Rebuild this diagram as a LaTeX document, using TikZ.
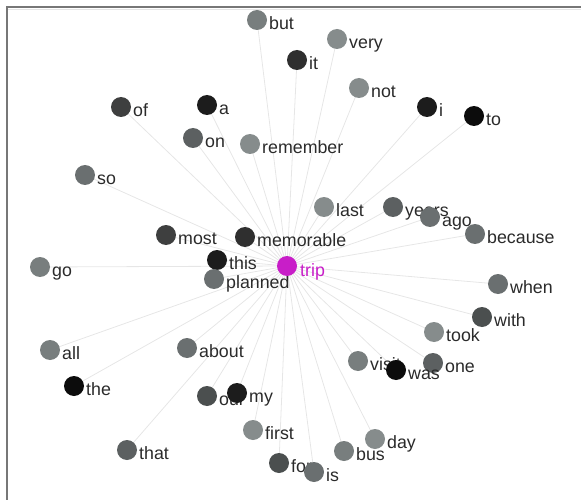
\documentclass[tikz,border=0pt]{standalone}
\usepackage{fontspec}
\setmainfont{Liberation Sans}
\pgfdeclarelayer{bg}
\pgfsetlayers{bg,main}
\definecolor{c0}{HTML}{0C0C0C}
\definecolor{c1}{HTML}{1C1C1C}
\definecolor{c2}{HTML}{2F2F2F}
\definecolor{c3}{HTML}{3E3F3F}
\definecolor{c4}{HTML}{4B4F4F}
\definecolor{c5}{HTML}{5C6061}
\definecolor{c6}{HTML}{6A6F70}
\definecolor{c7}{HTML}{787E7E}
\definecolor{c8}{HTML}{868C8C}
\definecolor{tripc}{HTML}{C81EC8}
\definecolor{edgec}{HTML}{E6E6E6}
\definecolor{framec}{HTML}{777777}
\definecolor{txtc}{HTML}{2A2A2A}
\begin{document}
\begin{tikzpicture}[x=1pt,y=-1pt,
  dot/.style={circle,inner sep=0pt,minimum size=20pt,draw=none},
  lbl/.style={anchor=base west,inner sep=0pt,font=\fontsize{17.8}{18}\selectfont,text=txtc},
  edge/.style={draw=edgec,line width=0.8pt}]
\useasboundingbox (0,0) rectangle (581,500);
\draw[framec,line width=1.6pt] (7,500) -- (7,7) -- (581,7);
\draw[black!10,line width=0.8pt] (8,9.5) -- (581,9.5);
\coordinate (trip) at (287,266);
\foreach \n/\x/\y/\c/\t in {
  but/257/20/c7/but, very/337/39/c8/very, it/297/60/c2/it, not/359/88/c8/not,
  i/427/107/c1/i, to/474/116/c0/to, of/121/107/c3/of, a/207/105/c1/a,
  on/193/138/c5/on, remember/250/144/c8/remember, so/85/175/c6/so,
  last/324/207/c8/last, years/393/207/c5/years, ago/430/217/c6/ago,
  because/475/234/c6/because, most/166/235/c3/most, memorable/245/237/c2/memorable,
  go/40/267/c7/go, this/217/260/c1/this, planned/214/279/c6/planned,
  when/498/284/c6/when, with/482/317/c4/with, took/434/332/c8/took,
  all/50/350/c7/all, about/187/348/c6/about, visit/358/361/c7/visit,
  one/433/363/c5/one, was/396/370/c0/was, the/74/386/c0/the,
  our/207/396/c4/our, my/237/393/c1/my, first/253/430/c8/first,
  that/127/450/c5/that, for/279/463/c4/for, is/314/472/c6/is,
  bus/344/451/c7/bus, day/375/439/c8/day}
{
  \node[dot,fill=\c] (w-\n) at (\x,\y) {};
  \node[lbl] (t-\n) at ([shift={(12pt,-9.5pt)}]w-\n.center) {\t};
  \begin{pgfonlayer}{bg}
    \draw[edge] (trip) -- (w-\n.center);
  \end{pgfonlayer}
}
\node[dot,fill=tripc] (w-trip) at (trip) {};
\node[lbl,text=tripc] (t-trip) at ([shift={(13pt,-10pt)}]w-trip.center) {trip};
\end{tikzpicture}
\end{document}
